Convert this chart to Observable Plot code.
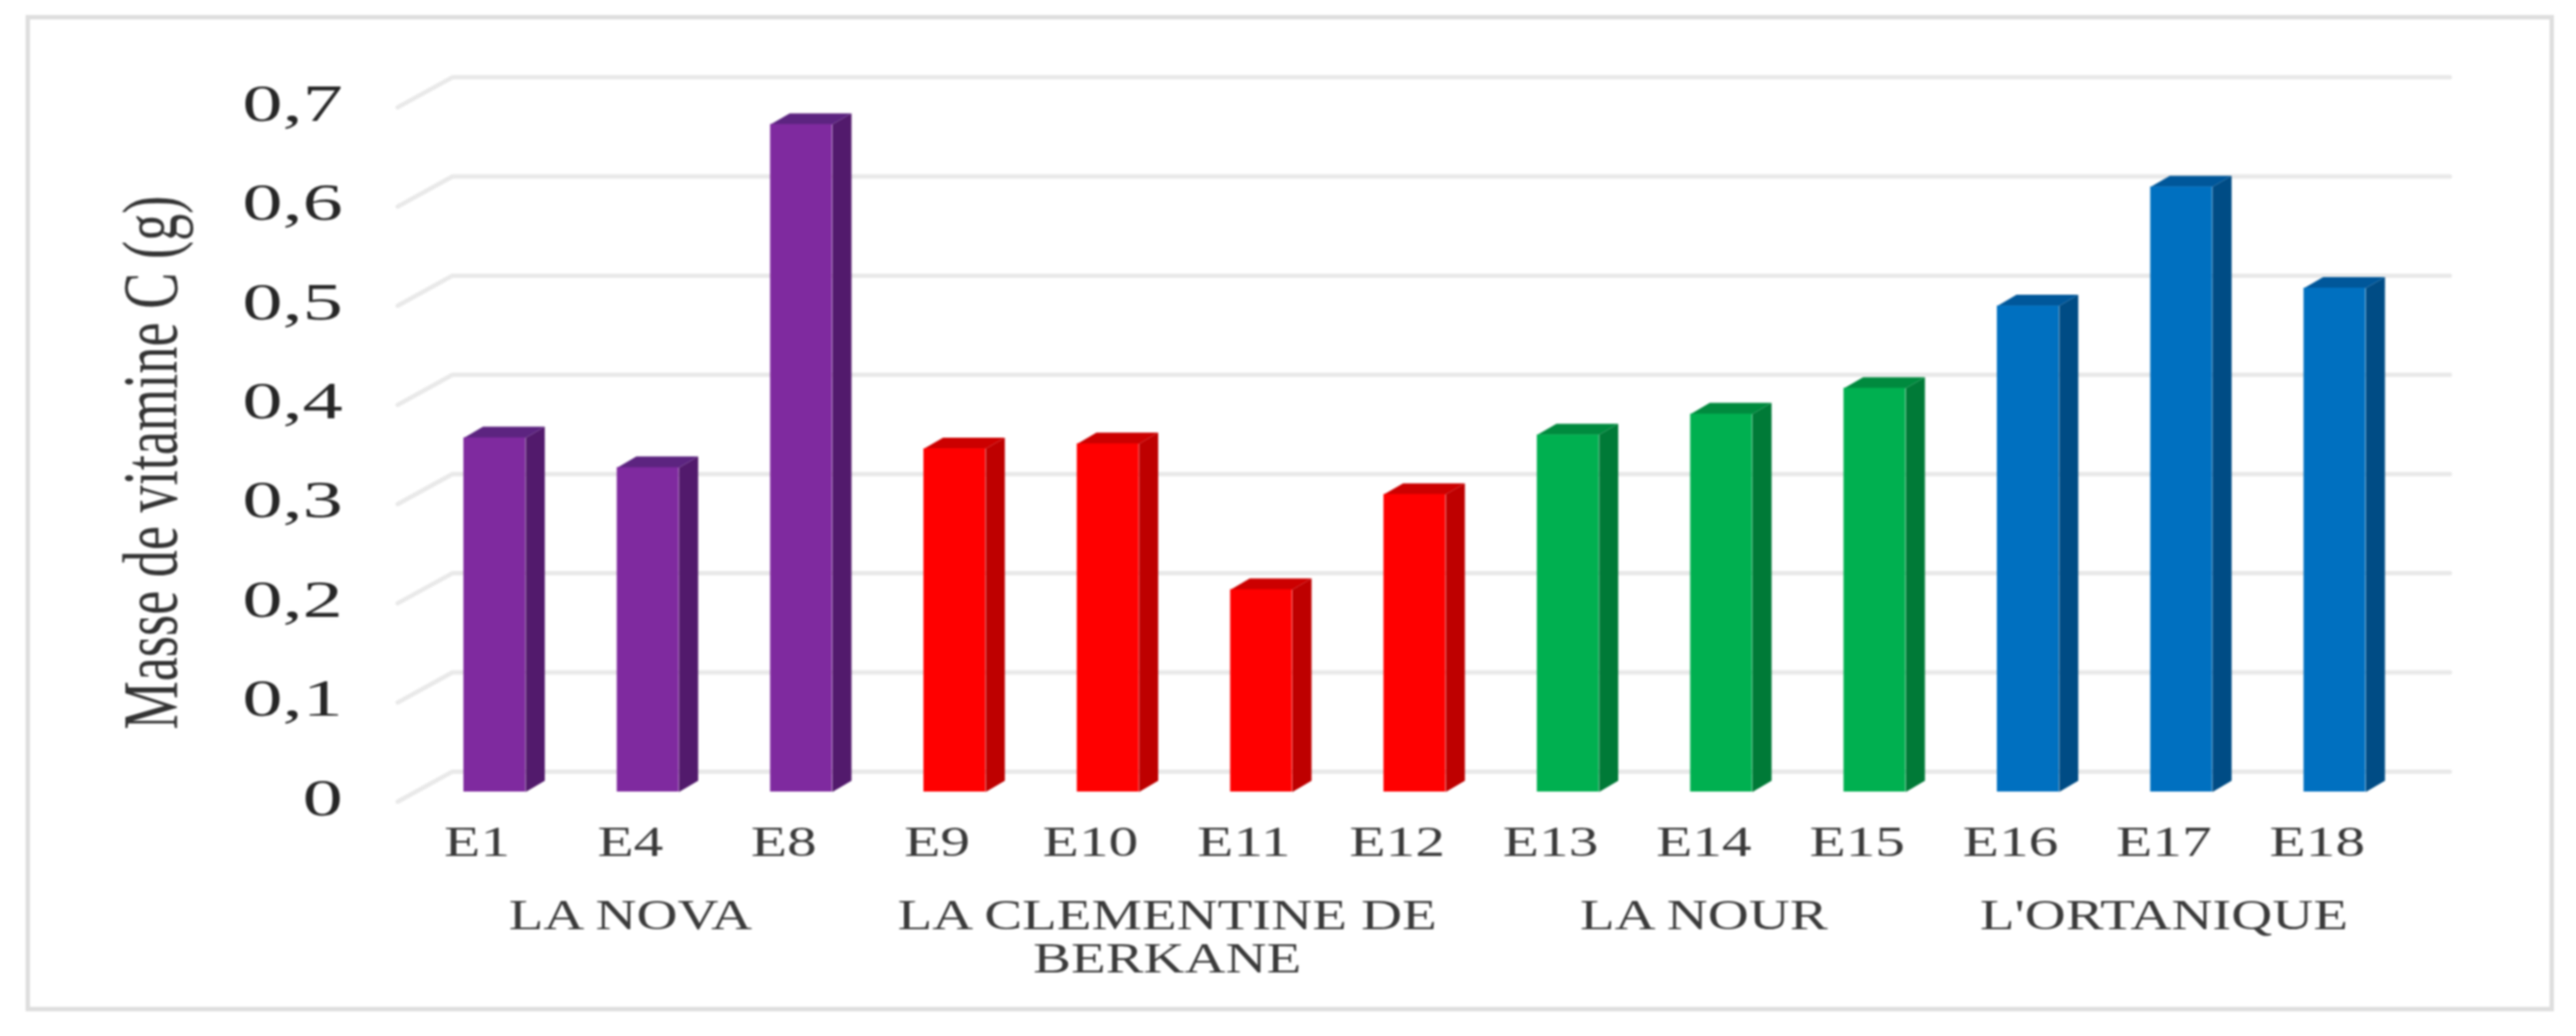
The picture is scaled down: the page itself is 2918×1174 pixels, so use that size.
<!DOCTYPE html>
<html>
<head>
<meta charset="utf-8">
<script src="https://cdn.jsdelivr.net/npm/d3@7"></script>
<script src="https://cdn.jsdelivr.net/npm/@observablehq/plot@0.6"></script>
<style>
html,body{margin:0;padding:0;background:#fff}
svg{display:block;filter:blur(1.1px)}
</style>
</head>
<body>
<script>
const samples = ["E1","E4","E8","E9","E10","E11","E12","E13","E14","E15","E16","E17","E18"];
const values = [0.357,0.327,0.673,0.346,0.351,0.204,0.300,0.360,0.381,0.407,0.490,0.610,0.508];
const sampleGroup = [0,0,0,1,1,1,1,2,2,2,3,3,3];
const groupNames = ["LA NOVA","LA CLEMENTINE DE\nBERKANE","LA NOUR","L'ORTANIQUE"];
const groupCenters = [1,4.5,8,11];
const yTicks = [0,0.1,0.2,0.3,0.4,0.5,0.6,0.7];
const frontColors = ["#7F2A9F","#FF0000","#00B050","#0070C0"];
const sideColors = ["#521A6C","#BE0000","#007A37","#004C85"];
const topColors = ["#5C2480","#CC0000","#008A3E","#00579A"];

const halfBar = 0.2015, barDepthX = 0.125, barDepthY = 0.0112;
const wallBack = 0.0205, wallFront = -0.0098;
const wallX = [-0.633,-0.276,12.75];

const bars = samples.map((s,i)=>({s,i,v:values[i],g:sampleGroup[i]}));
const face = (fn,colors)=>bars.flatMap(b=>fn(b).map(([x,y])=>({x,y,z:b.s,c:colors[b.g]})));
const sideFaces = face(b=>[[b.i+halfBar,0],[b.i+halfBar+barDepthX,barDepthY],[b.i+halfBar+barDepthX,b.v+barDepthY],[b.i+halfBar,b.v]],sideColors);
const topFaces = face(b=>[[b.i-halfBar,b.v],[b.i+halfBar,b.v],[b.i+halfBar+barDepthX,b.v+barDepthY],[b.i-halfBar+barDepthX,b.v+barDepthY]],topColors);
const grid = yTicks.flatMap(v=>[
  {x:wallX[0],y:v+wallFront,z:v},{x:wallX[1],y:v+wallBack,z:v},{x:wallX[2],y:v+wallBack,z:v}
]);

const chart = Plot.plot({
  width:2918,height:1174,
  marginLeft:31,marginRight:28,marginTop:19,marginBottom:31,
  style:{fontFamily:"'Liberation Serif',serif",background:"#fff",color:"#404040"},
  x:{type:"linear",domain:[-3.045,13.414],axis:null},
  y:{type:"linear",domain:[-0.2189,0.7811],axis:null},
  color:{type:"identity"},
  marks:[
    Plot.frame({stroke:"#dedede",strokeWidth:5}),
    Plot.line(grid,{x:"x",y:"y",z:"z",stroke:"#e9e9e9",strokeWidth:5,curve:"linear"}),
    Plot.line(sideFaces,{x:"x",y:"y",z:"z",fill:"c",stroke:null,curve:"linear"}),
    Plot.line(topFaces,{x:"x",y:"y",z:"z",fill:"c",stroke:null,curve:"linear"}),
    Plot.rect(bars,{x1:d=>d.i-halfBar,x2:d=>d.i+halfBar,y1:0,y2:"v",fill:d=>frontColors[d.g]}),
    Plot.axisY({ticks:yTicks,x:-0.99,anchor:"left",tickSize:0,tickPadding:0,label:null,
      tickFormat:d=>d===0?"0":d3.format(".1f")(d).replace(".",","),fontSize:60,dy:7,fill:"#262626"}),
    Plot.axisX({ticks:d3.range(samples.length),y:-0.034,anchor:"bottom",tickSize:0,tickPadding:0,label:null,
      tickFormat:i=>samples[i],fontSize:48,dx:-20,fill:"#3a3a3a",lineAnchor:"top"}),
    Plot.text(groupNames,{x:(d,i)=>groupCenters[i],y:-0.1064,text:d=>d,fontSize:48,dx:-20,lineHeight:1.04,lineAnchor:"top",fill:"#3a3a3a"}),
    Plot.text(["Masse de vitamine C (g)"],{x:-2.24,y:0.332,text:d=>d,rotate:-90,fontSize:88,fill:"#333333"})
  ]
});
document.body.appendChild(chart);
// the reference image is stretched horizontally: widen the glyphs to match
chart.querySelectorAll("text").forEach(t=>{
  const parts = t.querySelectorAll("tspan").length ? [...t.querySelectorAll("tspan")] : [t];
  const txt = t.textContent;
  const rotated = txt.startsWith("Masse");
  const factor = /^0/.test(txt) ? 1.52 : /^E\d/.test(txt) ? 1.4 : 1.34;
  parts.forEach(p=>{
    const w = p.getComputedTextLength();
    p.setAttribute("textLength", rotated ? 605 : w*factor);
    p.setAttribute("lengthAdjust","spacingAndGlyphs");
  });
});
</script>
</body>
</html>
